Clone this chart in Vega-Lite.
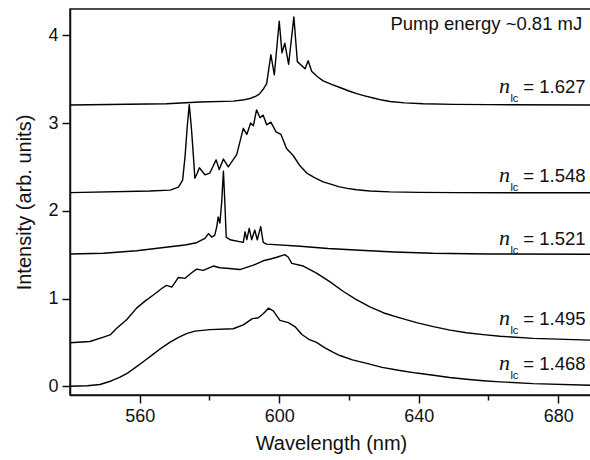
{
  "$schema": "https://vega.github.io/schema/vega-lite/v6.json",
  "width": 522,
  "height": 386,
  "autosize": {"type": "none"},
  "padding": {"left": 70, "top": 9, "right": 0, "bottom": 65},
  "background": "white",
  "config": {
    "view": {"stroke": "#111111", "strokeWidth": 1.5},
    "font": "Liberation Sans",
    "axis": {
      "grid": false,
      "domainColor": "#111111",
      "domainWidth": 1.5,
      "tickColor": "#111111",
      "tickWidth": 1.5,
      "labelColor": "#111111",
      "titleColor": "#111111",
      "labelFont": "Liberation Sans",
      "titleFont": "Liberation Sans",
      "labelFontSize": 18,
      "titleFontSize": 20,
      "titleFontWeight": "normal",
      "labelPadding": 4
    }
  },
  "datasets": {
    "spectra": [
      {"n": "1.468", "wl": 540, "I": 0.0},
      {"n": "1.468", "wl": 545, "I": 0.005},
      {"n": "1.468", "wl": 548.6, "I": 0.02},
      {"n": "1.468", "wl": 551.8, "I": 0.06},
      {"n": "1.468", "wl": 554.2, "I": 0.10},
      {"n": "1.468", "wl": 556.5, "I": 0.15},
      {"n": "1.468", "wl": 558.8, "I": 0.215},
      {"n": "1.468", "wl": 561.2, "I": 0.285},
      {"n": "1.468", "wl": 563.7, "I": 0.36},
      {"n": "1.468", "wl": 566.2, "I": 0.435},
      {"n": "1.468", "wl": 568.6, "I": 0.50},
      {"n": "1.468", "wl": 571, "I": 0.555},
      {"n": "1.468", "wl": 573.4, "I": 0.60},
      {"n": "1.468", "wl": 575.8, "I": 0.628},
      {"n": "1.468", "wl": 580.1, "I": 0.645},
      {"n": "1.468", "wl": 586.8, "I": 0.655},
      {"n": "1.468", "wl": 589.7, "I": 0.70},
      {"n": "1.468", "wl": 592.3, "I": 0.77},
      {"n": "1.468", "wl": 594, "I": 0.78},
      {"n": "1.468", "wl": 595.5, "I": 0.83},
      {"n": "1.468", "wl": 596.9, "I": 0.89},
      {"n": "1.468", "wl": 598.3, "I": 0.86},
      {"n": "1.468", "wl": 600.2, "I": 0.75},
      {"n": "1.468", "wl": 602.6, "I": 0.725},
      {"n": "1.468", "wl": 604.5, "I": 0.68},
      {"n": "1.468", "wl": 606.5, "I": 0.59},
      {"n": "1.468", "wl": 608.5, "I": 0.535},
      {"n": "1.468", "wl": 610.7, "I": 0.50},
      {"n": "1.468", "wl": 613, "I": 0.44},
      {"n": "1.468", "wl": 615.5, "I": 0.385},
      {"n": "1.468", "wl": 617.4, "I": 0.35},
      {"n": "1.468", "wl": 621, "I": 0.30},
      {"n": "1.468", "wl": 625.1, "I": 0.26},
      {"n": "1.468", "wl": 629.5, "I": 0.215},
      {"n": "1.468", "wl": 634.6, "I": 0.18},
      {"n": "1.468", "wl": 639.4, "I": 0.15},
      {"n": "1.468", "wl": 644.2, "I": 0.125},
      {"n": "1.468", "wl": 648.9, "I": 0.10},
      {"n": "1.468", "wl": 653.7, "I": 0.08},
      {"n": "1.468", "wl": 658.5, "I": 0.063},
      {"n": "1.468", "wl": 663.3, "I": 0.05},
      {"n": "1.468", "wl": 672.8, "I": 0.03},
      {"n": "1.468", "wl": 689.7, "I": 0.01},

      {"n": "1.495", "wl": 540, "I": 0.495},
      {"n": "1.495", "wl": 545.7, "I": 0.51},
      {"n": "1.495", "wl": 549.6, "I": 0.56},
      {"n": "1.495", "wl": 551.5, "I": 0.585},
      {"n": "1.495", "wl": 553.4, "I": 0.66},
      {"n": "1.495", "wl": 556.3, "I": 0.76},
      {"n": "1.495", "wl": 559.1, "I": 0.89},
      {"n": "1.495", "wl": 561.5, "I": 0.97},
      {"n": "1.495", "wl": 563.9, "I": 1.04},
      {"n": "1.495", "wl": 566.5, "I": 1.12},
      {"n": "1.495", "wl": 567.7, "I": 1.15},
      {"n": "1.495", "wl": 569.2, "I": 1.13},
      {"n": "1.495", "wl": 571.1, "I": 1.24},
      {"n": "1.495", "wl": 573, "I": 1.23},
      {"n": "1.495", "wl": 574.8, "I": 1.29},
      {"n": "1.495", "wl": 576.3, "I": 1.335},
      {"n": "1.495", "wl": 578.2, "I": 1.32},
      {"n": "1.495", "wl": 581.1, "I": 1.37},
      {"n": "1.495", "wl": 583, "I": 1.35},
      {"n": "1.495", "wl": 584.9, "I": 1.345},
      {"n": "1.495", "wl": 588.7, "I": 1.33},
      {"n": "1.495", "wl": 592.6, "I": 1.38},
      {"n": "1.495", "wl": 595.4, "I": 1.43},
      {"n": "1.495", "wl": 597.5, "I": 1.45},
      {"n": "1.495", "wl": 599.3, "I": 1.47},
      {"n": "1.495", "wl": 601.6, "I": 1.50},
      {"n": "1.495", "wl": 602.6, "I": 1.47},
      {"n": "1.495", "wl": 603.6, "I": 1.40},
      {"n": "1.495", "wl": 606.9, "I": 1.37},
      {"n": "1.495", "wl": 610.7, "I": 1.29},
      {"n": "1.495", "wl": 614.6, "I": 1.19},
      {"n": "1.495", "wl": 618.4, "I": 1.08},
      {"n": "1.495", "wl": 622, "I": 0.99},
      {"n": "1.495", "wl": 626, "I": 0.905},
      {"n": "1.495", "wl": 630, "I": 0.835},
      {"n": "1.495", "wl": 634.6, "I": 0.78},
      {"n": "1.495", "wl": 639.4, "I": 0.725},
      {"n": "1.495", "wl": 644.2, "I": 0.68},
      {"n": "1.495", "wl": 649, "I": 0.64},
      {"n": "1.495", "wl": 653.7, "I": 0.61},
      {"n": "1.495", "wl": 658.5, "I": 0.588},
      {"n": "1.495", "wl": 663.3, "I": 0.57},
      {"n": "1.495", "wl": 672.8, "I": 0.545},
      {"n": "1.495", "wl": 689.7, "I": 0.525},

      {"n": "1.521", "wl": 540, "I": 1.507},
      {"n": "1.521", "wl": 549.6, "I": 1.515},
      {"n": "1.521", "wl": 559.1, "I": 1.545},
      {"n": "1.521", "wl": 568.7, "I": 1.59},
      {"n": "1.521", "wl": 573, "I": 1.61},
      {"n": "1.521", "wl": 576.3, "I": 1.636},
      {"n": "1.521", "wl": 578.7, "I": 1.686},
      {"n": "1.521", "wl": 579.7, "I": 1.74},
      {"n": "1.521", "wl": 580.6, "I": 1.70},
      {"n": "1.521", "wl": 581.5, "I": 1.72},
      {"n": "1.521", "wl": 582.1, "I": 1.82},
      {"n": "1.521", "wl": 582.5, "I": 1.93},
      {"n": "1.521", "wl": 583, "I": 1.86},
      {"n": "1.521", "wl": 583.5, "I": 2.1},
      {"n": "1.521", "wl": 584, "I": 2.45},
      {"n": "1.521", "wl": 584.4, "I": 2.1},
      {"n": "1.521", "wl": 584.8, "I": 1.70},
      {"n": "1.521", "wl": 585.9, "I": 1.67},
      {"n": "1.521", "wl": 589.7, "I": 1.64},
      {"n": "1.521", "wl": 590.2, "I": 1.76},
      {"n": "1.521", "wl": 590.7, "I": 1.67},
      {"n": "1.521", "wl": 591.4, "I": 1.80},
      {"n": "1.521", "wl": 592.1, "I": 1.67},
      {"n": "1.521", "wl": 593, "I": 1.78},
      {"n": "1.521", "wl": 593.7, "I": 1.67},
      {"n": "1.521", "wl": 594.7, "I": 1.82},
      {"n": "1.521", "wl": 595.4, "I": 1.64},
      {"n": "1.521", "wl": 596.4, "I": 1.62},
      {"n": "1.521", "wl": 606, "I": 1.595},
      {"n": "1.521", "wl": 614, "I": 1.57},
      {"n": "1.521", "wl": 623.2, "I": 1.55},
      {"n": "1.521", "wl": 633, "I": 1.53},
      {"n": "1.521", "wl": 644, "I": 1.515},
      {"n": "1.521", "wl": 660, "I": 1.508},
      {"n": "1.521", "wl": 689.7, "I": 1.505},

      {"n": "1.548", "wl": 540, "I": 2.207},
      {"n": "1.548", "wl": 562.9, "I": 2.225},
      {"n": "1.548", "wl": 568.7, "I": 2.235},
      {"n": "1.548", "wl": 571.1, "I": 2.27},
      {"n": "1.548", "wl": 572.3, "I": 2.35},
      {"n": "1.548", "wl": 573, "I": 2.62},
      {"n": "1.548", "wl": 573.6, "I": 2.95},
      {"n": "1.548", "wl": 574.2, "I": 3.21},
      {"n": "1.548", "wl": 574.8, "I": 2.95},
      {"n": "1.548", "wl": 575.4, "I": 2.62},
      {"n": "1.548", "wl": 575.8, "I": 2.37},
      {"n": "1.548", "wl": 576.4, "I": 2.42},
      {"n": "1.548", "wl": 577.1, "I": 2.49},
      {"n": "1.548", "wl": 578.7, "I": 2.41},
      {"n": "1.548", "wl": 580.1, "I": 2.43},
      {"n": "1.548", "wl": 581.9, "I": 2.58},
      {"n": "1.548", "wl": 582.8, "I": 2.47},
      {"n": "1.548", "wl": 584, "I": 2.59},
      {"n": "1.548", "wl": 585.4, "I": 2.50},
      {"n": "1.548", "wl": 587.8, "I": 2.64},
      {"n": "1.548", "wl": 589.7, "I": 2.94},
      {"n": "1.548", "wl": 590.7, "I": 2.87},
      {"n": "1.548", "wl": 591.8, "I": 3.00},
      {"n": "1.548", "wl": 592.6, "I": 2.97},
      {"n": "1.548", "wl": 593.5, "I": 3.15},
      {"n": "1.548", "wl": 594.5, "I": 3.06},
      {"n": "1.548", "wl": 595.4, "I": 3.09},
      {"n": "1.548", "wl": 596.4, "I": 2.98},
      {"n": "1.548", "wl": 597.6, "I": 3.01},
      {"n": "1.548", "wl": 599.1, "I": 2.90},
      {"n": "1.548", "wl": 600.5, "I": 2.87},
      {"n": "1.548", "wl": 602.1, "I": 2.71},
      {"n": "1.548", "wl": 604, "I": 2.63},
      {"n": "1.548", "wl": 606, "I": 2.51},
      {"n": "1.548", "wl": 607.9, "I": 2.43},
      {"n": "1.548", "wl": 610, "I": 2.38},
      {"n": "1.548", "wl": 612.6, "I": 2.33},
      {"n": "1.548", "wl": 615, "I": 2.30},
      {"n": "1.548", "wl": 617, "I": 2.275},
      {"n": "1.548", "wl": 619.5, "I": 2.255},
      {"n": "1.548", "wl": 622.2, "I": 2.24},
      {"n": "1.548", "wl": 626, "I": 2.226},
      {"n": "1.548", "wl": 631.8, "I": 2.215},
      {"n": "1.548", "wl": 640, "I": 2.21},
      {"n": "1.548", "wl": 650.9, "I": 2.207},
      {"n": "1.548", "wl": 689.7, "I": 2.205},

      {"n": "1.627", "wl": 540, "I": 3.205},
      {"n": "1.627", "wl": 567.7, "I": 3.22},
      {"n": "1.627", "wl": 577.3, "I": 3.24},
      {"n": "1.627", "wl": 586.8, "I": 3.25},
      {"n": "1.627", "wl": 589.5, "I": 3.262},
      {"n": "1.627", "wl": 591.6, "I": 3.28},
      {"n": "1.627", "wl": 593.2, "I": 3.305},
      {"n": "1.627", "wl": 594.3, "I": 3.33},
      {"n": "1.627", "wl": 595.4, "I": 3.385},
      {"n": "1.627", "wl": 596.4, "I": 3.45},
      {"n": "1.627", "wl": 597.6, "I": 3.78},
      {"n": "1.627", "wl": 598.6, "I": 3.55},
      {"n": "1.627", "wl": 600, "I": 4.16},
      {"n": "1.627", "wl": 600.8, "I": 3.80},
      {"n": "1.627", "wl": 601.6, "I": 3.91},
      {"n": "1.627", "wl": 602.7, "I": 3.67},
      {"n": "1.627", "wl": 604.2, "I": 4.21},
      {"n": "1.627", "wl": 605.2, "I": 3.70},
      {"n": "1.627", "wl": 607.4, "I": 3.62},
      {"n": "1.627", "wl": 608.3, "I": 3.71},
      {"n": "1.627", "wl": 609.3, "I": 3.59},
      {"n": "1.627", "wl": 610.9, "I": 3.53},
      {"n": "1.627", "wl": 612.6, "I": 3.48},
      {"n": "1.627", "wl": 615, "I": 3.44},
      {"n": "1.627", "wl": 617.4, "I": 3.405},
      {"n": "1.627", "wl": 620, "I": 3.365},
      {"n": "1.627", "wl": 622.2, "I": 3.335},
      {"n": "1.627", "wl": 624.5, "I": 3.31},
      {"n": "1.627", "wl": 627, "I": 3.285},
      {"n": "1.627", "wl": 629.5, "I": 3.262},
      {"n": "1.627", "wl": 631.8, "I": 3.245},
      {"n": "1.627", "wl": 636, "I": 3.23},
      {"n": "1.627", "wl": 641.3, "I": 3.22},
      {"n": "1.627", "wl": 650, "I": 3.213},
      {"n": "1.627", "wl": 660.4, "I": 3.21},
      {"n": "1.627", "wl": 689.7, "I": 3.205}
    ],
    "labels": [
      {"part": "n", "wl": 663.0, "I": 3.345, "t": "n"},
      {"part": "sub", "wl": 666.3, "I": 3.345, "t": "lc"},
      {"part": "val", "wl": 670.0, "I": 3.345, "t": "= 1.627"},
      {"part": "n", "wl": 663.0, "I": 2.329, "t": "n"},
      {"part": "sub", "wl": 666.3, "I": 2.329, "t": "lc"},
      {"part": "val", "wl": 670.0, "I": 2.329, "t": "= 1.548"},
      {"part": "n", "wl": 663.0, "I": 1.610, "t": "n"},
      {"part": "sub", "wl": 666.3, "I": 1.610, "t": "lc"},
      {"part": "val", "wl": 670.0, "I": 1.610, "t": "= 1.521"},
      {"part": "n", "wl": 663.0, "I": 0.696, "t": "n"},
      {"part": "sub", "wl": 666.3, "I": 0.696, "t": "lc"},
      {"part": "val", "wl": 670.0, "I": 0.696, "t": "= 1.495"},
      {"part": "n", "wl": 663.0, "I": 0.183, "t": "n"},
      {"part": "sub", "wl": 666.3, "I": 0.183, "t": "lc"},
      {"part": "val", "wl": 670.0, "I": 0.183, "t": "= 1.468"},
      {"part": "title", "wl": 659.4, "I": 4.064, "t": "Pump energy ~0.81 mJ"}
    ]
  },
  "encoding": {
    "x": {
      "field": "wl",
      "type": "quantitative",
      "scale": {"domain": [540, 689.7], "nice": false, "zero": false},
      "axis": {
        "title": "Wavelength (nm)",
        "values": [560, 580, 600, 620, 640, 660, 680],
        "format": "d",
        "labelExpr": "datum.value % 40 === 0 ? datum.label : ''",
        "tickSize": {"condition": {"test": "datum.value % 40 === 0", "value": 8}, "value": 5},
        "titlePadding": 8
      }
    },
    "y": {
      "field": "I",
      "type": "quantitative",
      "scale": {"domain": [-0.1, 4.3], "nice": false, "zero": false},
      "axis": {
        "title": "Intensity (arb. units)",
        "values": [0, 0.5, 1, 1.5, 2, 2.5, 3, 3.5, 4],
        "format": "d",
        "labelExpr": "datum.value % 1 === 0 ? datum.label : ''",
        "tickSize": {"condition": {"test": "datum.value % 1 === 0", "value": 8}, "value": 5},
        "titlePadding": 13
      }
    }
  },
  "layer": [
    {
      "data": {"name": "spectra"},
      "mark": {"type": "line", "color": "#000000", "strokeWidth": 1.4, "strokeJoin": "round"},
      "encoding": {"detail": {"field": "n"}}
    },
    {
      "data": {"name": "labels"},
      "transform": [{"filter": "datum.part === 'n'"}],
      "mark": {"type": "text", "font": "Liberation Serif", "fontStyle": "italic", "fontSize": 22, "align": "left", "baseline": "alphabetic", "color": "#111111"},
      "encoding": {"text": {"field": "t"}}
    },
    {
      "data": {"name": "labels"},
      "transform": [{"filter": "datum.part === 'sub'"}],
      "mark": {"type": "text", "font": "Liberation Sans", "fontSize": 11, "align": "left", "baseline": "alphabetic", "dy": 9, "color": "#111111"},
      "encoding": {"text": {"field": "t"}}
    },
    {
      "data": {"name": "labels"},
      "transform": [{"filter": "datum.part === 'val'"}],
      "mark": {"type": "text", "font": "Liberation Sans", "fontSize": 18.5, "align": "left", "baseline": "alphabetic", "color": "#111111"},
      "encoding": {"text": {"field": "t"}}
    },
    {
      "data": {"name": "labels"},
      "transform": [{"filter": "datum.part === 'title'"}],
      "mark": {"type": "text", "font": "Liberation Sans", "fontSize": 18.5, "align": "center", "baseline": "alphabetic", "color": "#111111"},
      "encoding": {"text": {"field": "t"}}
    }
  ]
}
